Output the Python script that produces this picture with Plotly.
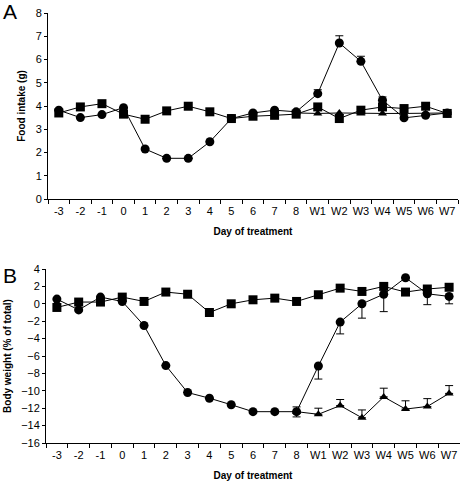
import numpy as np
import plotly.graph_objects as go

days = ["-3", "-2", "-1", "0", "1", "2", "3", "4", "5", "6", "7", "8",
        "W1", "W2", "W3", "W4", "W5", "W6", "W7"]
tri_days = ["8", "W1", "W2", "W3", "W4", "W5", "W6", "W7"]

# Panel A: food intake (g)
food_circle = [3.82, 3.5, 3.63, 3.93, 2.15, 1.75, 1.75, 2.46, 3.46, 3.7, 3.82, 3.75,
               4.53, 6.71, 5.92, 4.25, 3.49, 3.6, 3.7]
food_circle_err = [0, 0, 0, 0, 0, 0, 0, 0, 0, 0, 0, 0,
                   0.17, 0.31, 0.22, 0.14, 0, 0.05, 0.12]
food_square = [3.7, 3.96, 4.1, 3.65, 3.43, 3.79, 3.99, 3.75, 3.46, 3.56, 3.6, 3.65,
               3.96, 3.46, 3.82, 3.96, 3.89, 3.99, 3.68]
food_triangle = [3.7, 3.68, 3.7, 3.68, 3.68, 3.68, 3.68, 3.7]

# Panel B: body weight (% of total)
bw_circle = [0.54, -0.7, 0.77, 0.27, -2.5, -7.1, -10.2, -10.85, -11.6, -12.4, -12.4, -12.4,
             -7.15, -2.1, 0.0, 1.1, 3.0, 1.15, 0.85]
bw_circle_err = [0, 0, 0, 0, 0, 0, 0, 0, 0, 0, 0, 0,
                 1.5, 1.36, 1.65, 2.0, 0, 1.25, 0.85]
bw_square = [-0.42, 0.2, 0.2, 0.77, 0.27, 1.35, 1.1, -1.0, 0.0, 0.46, 0.65, 0.27,
             1.04, 1.8, 1.42, 2.0, 1.35, 1.7, 1.9]
bw_triangle = [-12.4, -12.7, -11.7, -13.1, -10.7, -12.1, -11.8, -10.3]
bw_triangle_err_up = [0.55, 0.7, 0.7, 0.9, 1.0, 0.95, 0.9, 0.9]
bw_triangle_err_dn = [0.6, 0, 0, 0, 0, 0, 0, 0]

W, H = 463, 482
FONT = "Liberation Sans, Arial, sans-serif"

def px_x(p):
    return p / W

def px_y(p):
    return 1 - p / H

fig = go.Figure()

line = dict(color="black", width=1)
ms = 8

def add(x, y, symbol, xa, ya, err=None, errm=None, size=ms):
    kw = {}
    if err is not None:
        kw["error_y"] = dict(type="data", array=err, arrayminus=errm if errm is not None else [0]*len(err),
                             symmetric=False, color="black", thickness=1, width=4, visible=True)
    fig.add_trace(go.Scatter(x=x, y=y, mode="lines+markers", xaxis=xa, yaxis=ya,
                             line=line, marker=dict(symbol=symbol, color="black", size=size),
                             showlegend=False, **kw))

# Panel A
add(days, food_square, "square", "x", "y", size=9)
add(tri_days, food_triangle, "triangle-up", "x", "y")
add(days, food_circle, "circle", "x", "y", err=food_circle_err, size=9)

# Panel B
add(days, bw_square, "square", "x2", "y2", size=9)
add(tri_days, bw_triangle, "triangle-up", "x2", "y2", err=bw_triangle_err_up, errm=bw_triangle_err_dn)
add(days, bw_circle, "circle", "x2", "y2", err=[0]*len(bw_circle_err), errm=bw_circle_err, size=9)

xcommon = dict(type="category", categoryorder="array", categoryarray=days,
               showline=True, linecolor="black", linewidth=1, ticks="outside",
               tickson="boundaries", ticklen=4, tickcolor="black", showgrid=False,
               zeroline=False, tickfont=dict(family=FONT, size=11, color="black"),
               tickangle=0, range=[-0.5, 18.5], automargin=False, ticklabelstandoff=2,
               title=dict(text="<b>Day of treatment</b>", font=dict(family=FONT, size=10, color="black"),
                          standoff=11))
ycommon = dict(showline=True, linecolor="black", linewidth=1, ticks="outside",
               ticklen=3, tickcolor="black", showgrid=False, zeroline=False,
               tickfont=dict(family=FONT, size=11, color="black"), automargin=False)

fig.update_layout(
    width=W, height=H,
    margin=dict(l=0, r=0, t=0, b=0),
    paper_bgcolor="white", plot_bgcolor="white",
    xaxis=dict(**xcommon, domain=[px_x(48), px_x(458)], anchor="y"),
    yaxis=dict(**ycommon, domain=[px_y(199), px_y(13)], range=[0, 8], dtick=1, anchor="x",
               title=dict(text="<b>Food intake (g)</b>", font=dict(family=FONT, size=10, color="black"),
                          standoff=8)),
    xaxis2=dict(**xcommon, domain=[px_x(46), px_x(460)], anchor="y2"),
    yaxis2=dict(**ycommon, domain=[px_y(443), px_y(269)], range=[-16, 4], dtick=2, anchor="x2",
                title=dict(text="<b>Body weight (% of total)</b>", font=dict(family=FONT, size=10, color="black"),
                           standoff=7)),
    annotations=[
        dict(text="A", x=px_x(9.5), y=px_y(11.5), xref="paper", yref="paper", xanchor="center", yanchor="middle",
             showarrow=False, font=dict(family=FONT, size=21, color="black")),
        dict(text="B", x=px_x(9.5), y=px_y(275.5), xref="paper", yref="paper", xanchor="center", yanchor="middle",
             showarrow=False, font=dict(family=FONT, size=21, color="black")),
    ],
)

fig.write_html("out.html", config={"displayModeBar": False},
               post_script="document.body.style.margin='0px';")
